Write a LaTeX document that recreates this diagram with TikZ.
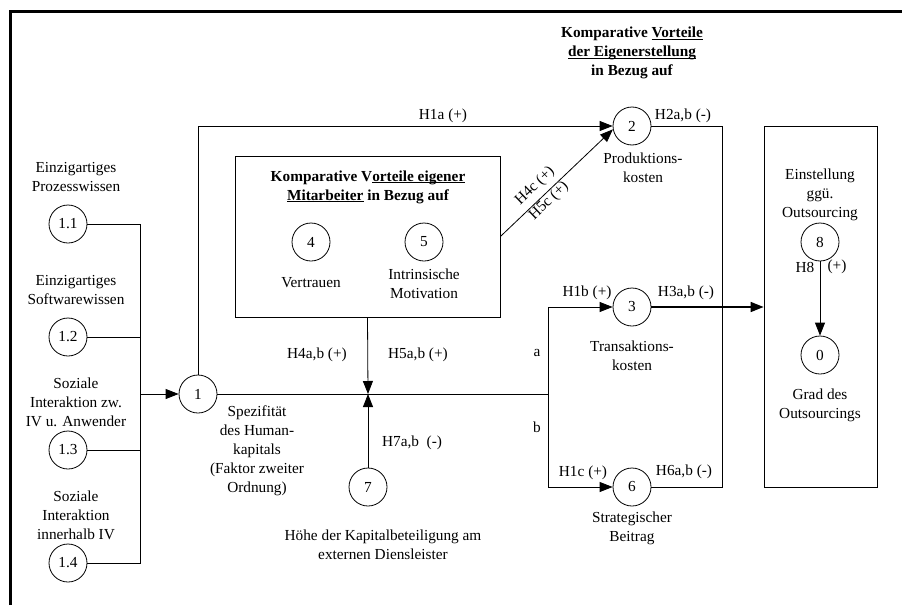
\documentclass[tikz,border=0pt]{standalone}
\usepackage{fontspec}
\setmainfont{Liberation Serif}
\usetikzlibrary{arrows.meta}
\newcommand\myul[1]{\underline{\smash{#1}}}
\begin{document}
\begin{tikzpicture}[x=1pt,y=-1pt,
  every node/.style={font=\fontsize{15.3}{19}\selectfont},
  circ/.style={circle,draw,line width=0.8pt,minimum size=38pt,inner sep=0pt},
  lbl/.style={align=center,inner sep=0pt},
  boxnode/.style={draw,line width=0.8pt,inner sep=0pt},
  ln/.style={line width=0.8pt},
  arr/.style={line width=0.8pt,-{Triangle[length=13pt,width=10pt]}},
  bigarr/.style={line width=1.6pt,-{Triangle[length=13pt,width=10pt]}}]
\useasboundingbox (0,0) rectangle (902,605);
% frame
\draw[line width=3pt] (10.5,605) -- (10.5,11) -- (902,11);
% boxes
\node[boxnode,minimum width=265pt,minimum height=161pt] (mbox) at (367.5,236.5) {};
\node[boxnode,minimum width=113pt,minimum height=361pt] (rbox) at (820.5,306.5) {};
% circles
\node[circ] (n11) at (68,224) {1.1};
\node[circ] (n12) at (68,337) {1.2};
\node[circ] (n13) at (68,450) {1.3};
\node[circ] (n14) at (68,563) {1.4};
\node[circ] (n1) at (198,394) {1};
\node[circ] (n2) at (632,126) {2};
\node[circ] (n3) at (632,307) {3};
\node[circ] (n6) at (632,487) {6};
\node[circ] (n4) at (311,242) {4};
\node[circ] (n5) at (424,242) {5};
\node[circ] (n7) at (368,487) {7};
\node[circ] (n8) at (820,242) {8};
\node[circ] (n0) at (820,355) {0};
% coordinates
\coordinate (bus) at (140,394);
\coordinate (bustop) at (140,224);
\coordinate (busbot) at (140,563);
\coordinate (up) at (198,126);
\coordinate (j) at (368,394);
\coordinate (split) at (548,394);
\coordinate (rt) at (722,126);
\coordinate (rb) at (722,487);
% labels
\node[lbl] (l11) at (76,177) {Einzigartiges\\Prozesswissen};
\node[lbl] (l12) at (76,290) {Einzigartiges\\Softwarewissen};
\node[lbl] (l13) at (76,402) {Soziale\\Interaktion zw.\\IV u. Anwender};
\node[lbl] (l14) at (76,515) {Soziale\\Interaktion\\innerhalb IV};
\node[lbl] (l1) at (257,451) {Spezifit\"at\\des Human-\\kapitals\\(Faktor zweiter\\Ordnung)};
\node[lbl,font=\fontsize{15.3}{19}\selectfont\bfseries] (title) at (632,53) {Komparative \myul{Vorteile}\\\myul{der Eigenerstellung}\\in Bezug auf};
\node[lbl,font=\fontsize{15.3}{19}\selectfont\bfseries] (mtitle) at (368,187) {Komparative V\myul{orteile eigener}\\\myul{Mitarbeiter} in Bezug auf};
\node[lbl] (l4) at (311,283) {Vertrauen};
\node[lbl] (l5) at (424,284) {Intrinsische\\Motivation};
\node[lbl] (l2) at (643,168) {Produktions-\\kosten};
\node[lbl] (l3) at (632,356) {Transaktions-\\kosten};
\node[lbl] (l6) at (632,528) {Strategischer\\Beitrag};
\node[lbl] (l7) at (383,545) {H\"ohe der Kapitalbeteiligung am\\externen Diensleister};
\node[lbl] (l8) at (820,195) {Einstellung\\gg\"u.\\Outsourcing};
\node[lbl] (l0) at (820,405) {Grad des\\Outsourcings};
\node[lbl] (h1a) at (443,116) {H1a (+)};
\node[lbl] (h2) at (683,116) {H2a,b (-)};
\node[lbl] (h1b) at (587,293) {H1b (+)};
\node[lbl] (h3) at (686,293) {H3a,b (-)};
\node[lbl] (h1c) at (583,473) {H1c (+)};
\node[lbl] (h6) at (684,472) {H6a,b (-)};
\node[lbl] (h4ab) at (317,355) {H4a,b (+)};
\node[lbl] (h5ab) at (418,355) {H5a,b (+)};
\node[lbl] (h7) at (412,443) {H7a,b\ \ (-)};
\node[lbl] (la) at (537,353) {a};
\node[lbl] (lb) at (537,427) {b};
\node[lbl] (h8) at (805,267) {H8};
\node[lbl] (h8p) at (837,267) {(+)};
\node[lbl,rotate=44] (h4c) at (535,186) {H4c (+)};
\node[lbl,rotate=44] (h5c) at (549,201) {H5c (+)};
% connectors
\draw[ln] (n11.east) -- (bustop) -- (busbot) -- (n14.east);
\draw[ln] (n12.east) -- (n12.east -| bus);
\draw[ln] (n13.east) -- (n13.east -| bus);
\draw[arr] (bus) -- (n1.west);
\draw[arr] (n1.north) -- (up) -- (n2.west);
\draw[ln] (n1.east) -- (split);
\draw[arr] (split) |- (n3.west);
\draw[arr] (split) |- (n6.west);
\draw[arr] (mbox.south) -- (j);
\draw[arr] (n7.north) -- (j);
\draw[arr] (mbox.east) -- (n2.190);
\draw[ln] (n2.east) -- (rt) -- (rb) -- (n6.east);
\draw[bigarr] (n3.east) -- (n3.east -| rbox.west);
\draw[arr] (n8.south) -- (n0.north);
\end{tikzpicture}
\end{document}
